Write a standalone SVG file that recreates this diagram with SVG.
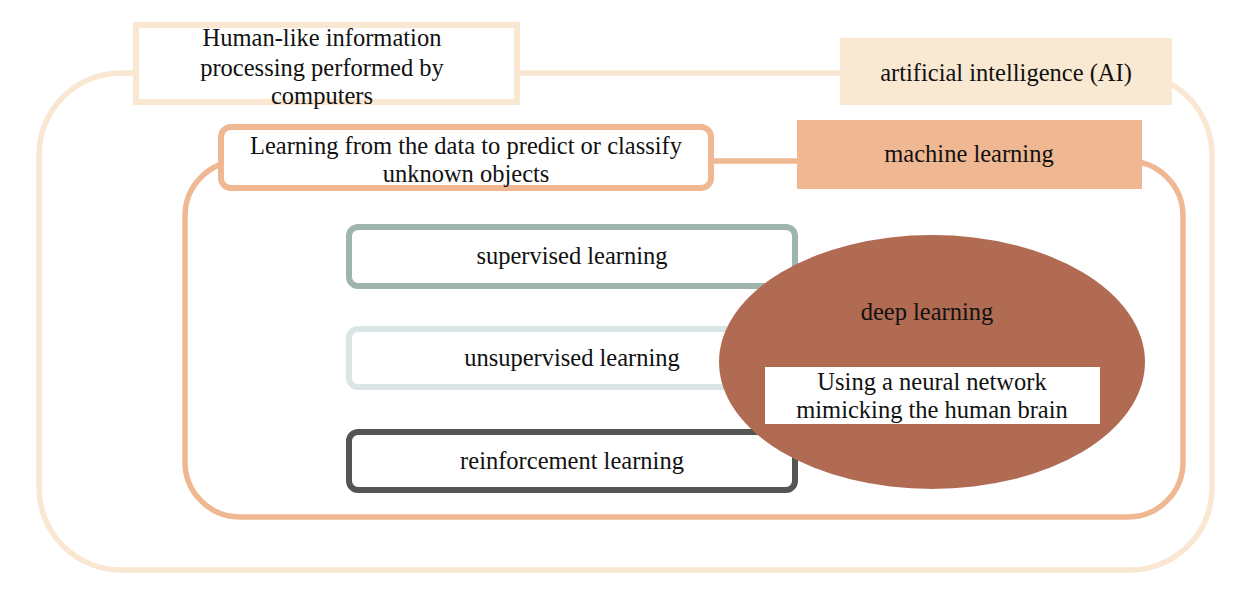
<svg xmlns="http://www.w3.org/2000/svg" width="1236" height="594" viewBox="0 0 1236 594">
<style>
text{font-size:24.5px;fill:#111;text-anchor:middle}
.ai{stroke:#f9e7d2}
.ml{stroke:#efb892}
</style>
<rect width="1236" height="594" fill="#fff"/>
<g font-family="'Liberation Serif', 'Times New Roman', serif">
<g id="ai-frame"><rect x="39" y="73" width="1173" height="497" rx="82" fill="none" class="ai" stroke-width="5.5"/></g>
<g id="ml-frame"><rect x="185" y="161" width="998" height="356" rx="55" fill="none" class="ml" stroke-width="5.5"/></g>
<g id="ai-desc">
<rect x="136" y="25" width="381" height="77" fill="#fff" class="ai" stroke-width="6"/>
<text x="322" y="46">Human-like information</text>
<text x="322" y="76">processing performed by</text>
<text x="322" y="104">computers</text>
</g>
<g id="ai-label">
<rect x="840" y="38" width="332" height="67" fill="#f9e8d2"/>
<text x="1006" y="81">artificial intelligence (AI)</text>
</g>
<g id="ml-desc">
<rect x="221" y="127" width="490" height="61" rx="10" fill="#fff" class="ml" stroke-width="6"/>
<text x="466" y="154">Learning from the data to predict or classify</text>
<text x="466" y="182">unknown objects</text>
</g>
<g id="ml-label">
<rect x="797" y="120" width="345" height="69" fill="#efb892"/>
<text x="969" y="162">machine learning</text>
</g>
<g id="supervised">
<rect x="349" y="227" width="446" height="59" rx="9" fill="#fff" stroke="#9fb5ab" stroke-width="6"/>
<text x="572" y="264">supervised learning</text>
</g>
<g id="unsupervised">
<rect x="349" y="329" width="446" height="58" rx="9" fill="#fff" stroke="#d9e6e5" stroke-width="6"/>
<text x="572" y="366">unsupervised learning</text>
</g>
<g id="reinforcement">
<rect x="349" y="432" width="446" height="58" rx="9" fill="#fff" stroke="#555" stroke-width="6"/>
<text x="572" y="469">reinforcement learning</text>
</g>
<g id="deep-learning">
<ellipse cx="932" cy="362" rx="213" ry="127" fill="#b06b52"/>
<text x="927" y="320">deep learning</text>
<rect x="765" y="367" width="335" height="57" fill="#fff"/>
<text x="932" y="390">Using a neural network</text>
<text x="932" y="418">mimicking the human brain</text>
</g>
<g id="connectors"></g>
</g>
</svg>
